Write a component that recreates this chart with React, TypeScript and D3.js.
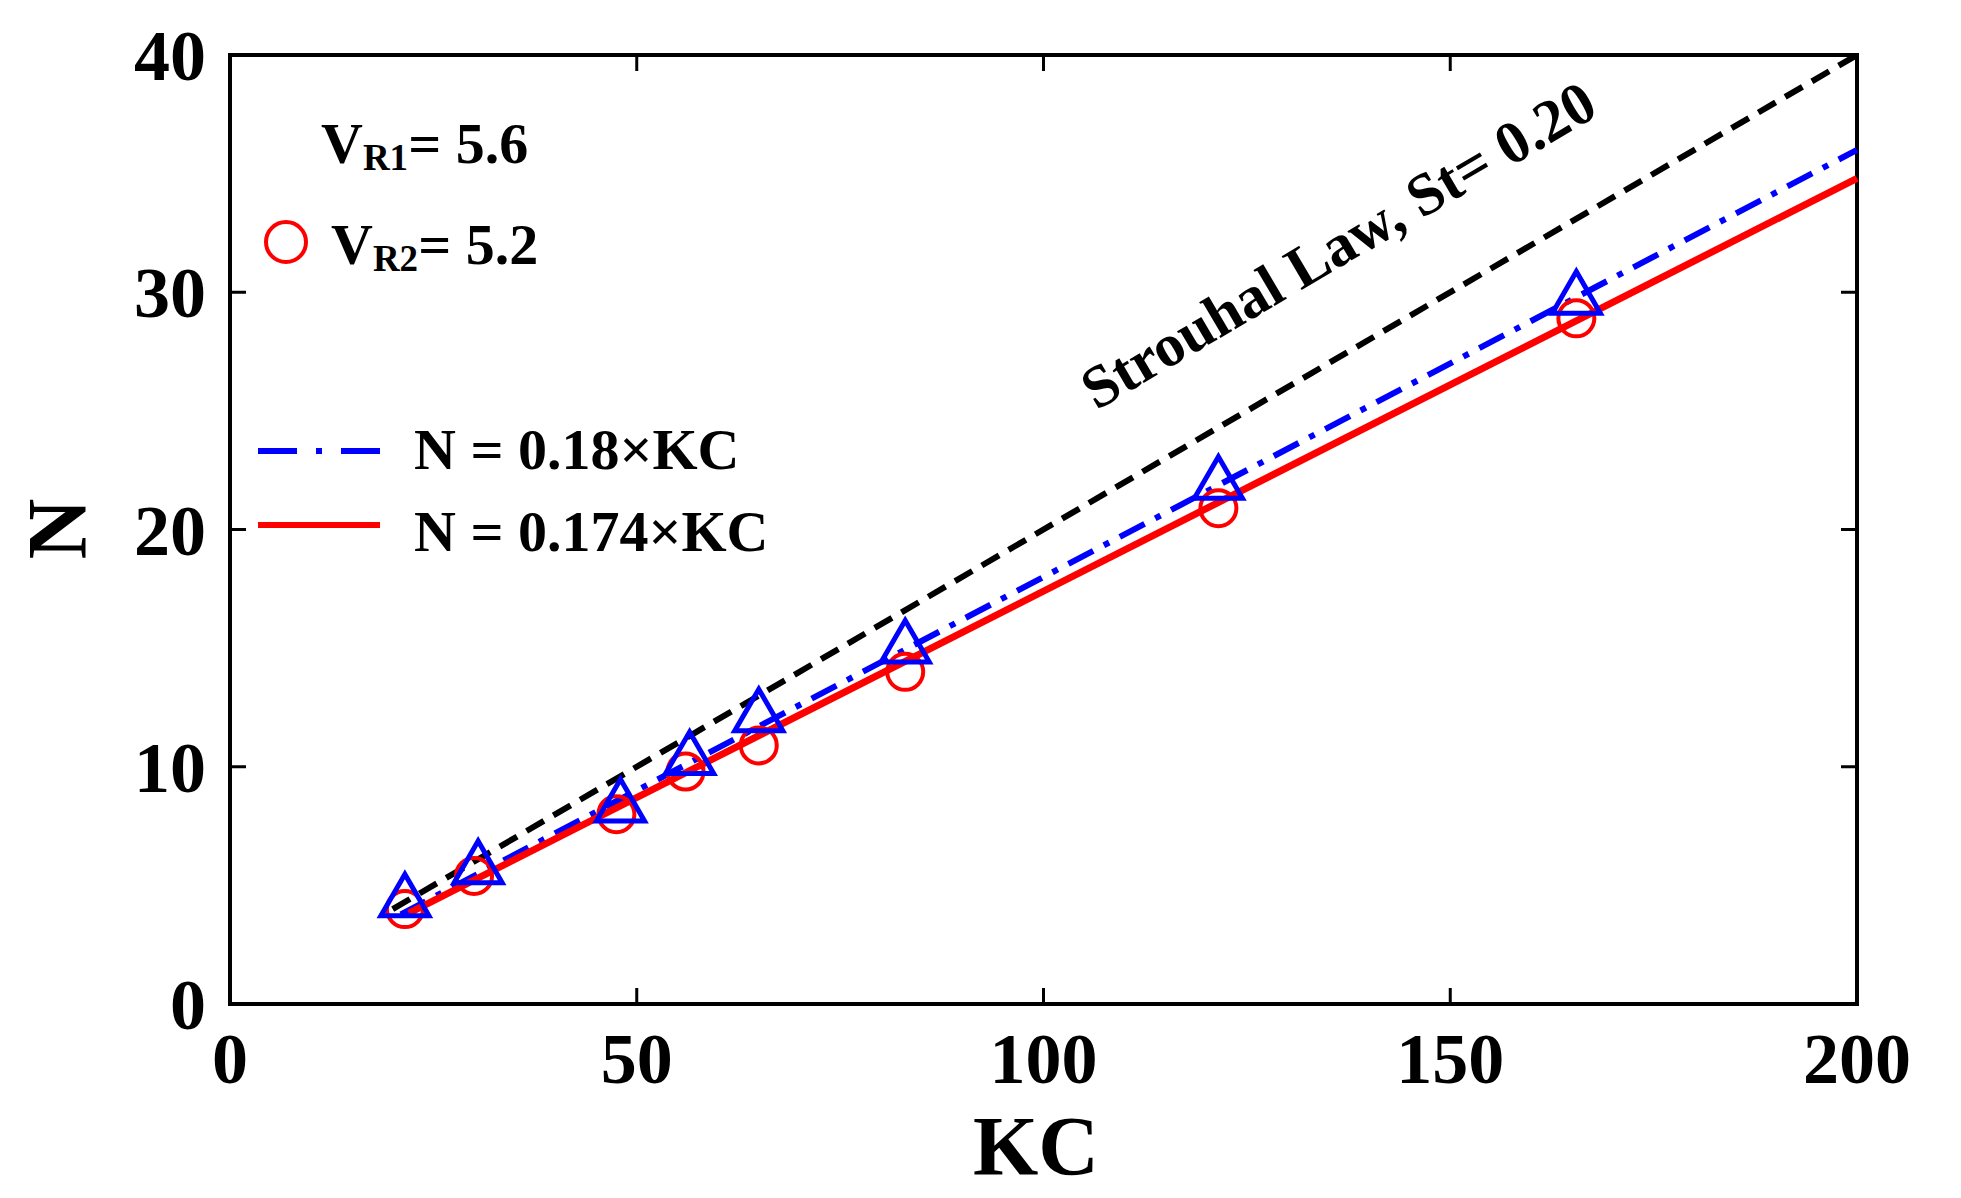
import React, { useEffect, useRef } from "react";
import * as d3 from "d3";

const kcRed = [21.5, 30, 47.5, 56, 65, 83, 121.5, 165.5];
const nRed = [4.0, 5.4, 8.0, 9.8, 10.9, 14.0, 20.9, 28.9];
const kcBlue = [21.5, 30.5, 48, 56.5, 65, 83, 121.5, 165.5];
const nBlue = [4.3, 5.7, 8.3, 10.3, 12.1, 15.0, 21.9, 29.7];

// fitted straight lines, end points
const strouhalKC = [20, 200];
const strouhalN = [4, 40];
const fitBlueKC = [21, 200];
const fitBlueN = [3.78, 36];
const fitRedKC = [22, 200];
const fitRedN = [3.83, 34.8];

const xTicks = [0, 50, 100, 150, 200];
const yTicks = [0, 10, 20, 30, 40];

const FONT = "'Liberation Serif', 'Times New Roman', serif";

export default function App() {
  const ref = useRef<SVGSVGElement | null>(null);

  useEffect(() => {
    if (!ref.current) return;
    document.body.style.margin = "0";
    const svg = d3.select(ref.current);
    svg.selectAll("*").remove();

    const left = 230,
      right = 1857,
      top = 55,
      bottom = 1004;
    const x = d3.scaleLinear([0, 200], [left, right]);
    const y = d3.scaleLinear([0, 40], [bottom, top]);
    const tick = 16;

    const g = svg.append("g");

    // ticks (inward, all four sides)
    const tk = g.append("g").attr("stroke", "#000").attr("stroke-width", 3);
    xTicks.forEach((t) => {
      tk.append("line").attr("x1", x(t)).attr("x2", x(t)).attr("y1", bottom).attr("y2", bottom - tick);
      tk.append("line").attr("x1", x(t)).attr("x2", x(t)).attr("y1", top).attr("y2", top + tick);
    });
    yTicks.forEach((t) => {
      tk.append("line").attr("x1", left).attr("x2", left + tick).attr("y1", y(t)).attr("y2", y(t));
      tk.append("line").attr("x1", right).attr("x2", right - tick).attr("y1", y(t)).attr("y2", y(t));
    });

    // frame
    g.append("rect")
      .attr("x", left)
      .attr("y", top)
      .attr("width", right - left)
      .attr("height", bottom - top)
      .attr("fill", "none")
      .attr("stroke", "#000")
      .attr("stroke-width", 4);

    // tick labels
    const lbl = g
      .append("g")
      .attr("font-family", FONT)
      .attr("font-weight", "bold")
      .attr("font-size", 72)
      .attr("fill", "#000");
    xTicks.forEach((t) => {
      lbl.append("text").attr("x", x(t)).attr("y", 1083).attr("text-anchor", "middle").text(t);
    });
    yTicks.forEach((t) => {
      lbl
        .append("text")
        .attr("x", 206)
        .attr("y", y(t) + 25)
        .attr("text-anchor", "end")
        .text(t);
    });

    // axis titles
    g.append("text")
      .attr("x", 1036)
      .attr("y", 1175)
      .attr("text-anchor", "middle")
      .attr("font-family", FONT)
      .attr("font-weight", "bold")
      .attr("font-size", 84)
      .text("KC");
    g.append("text")
      .attr("transform", "translate(86,529) rotate(-90)")
      .attr("text-anchor", "middle")
      .attr("font-family", FONT)
      .attr("font-weight", "bold")
      .attr("font-size", 84)
      .text("N");

    // lines
    const line = d3
      .line<number>()
      .x((d) => x(d[0]))
      .y((d) => y(d[1]));
    const pts = (a: number[], b: number[]) => a.map((v, i) => [v, b[i]]);

    g.append("path")
      .attr("d", line(pts(strouhalKC, strouhalN) as any))
      .attr("fill", "none")
      .attr("stroke", "#000")
      .attr("stroke-width", 6)
      .attr("stroke-dasharray", "20 11");
    g.append("path")
      .attr("d", line(pts(fitBlueKC, fitBlueN) as any))
      .attr("fill", "none")
      .attr("stroke", "#0000ff")
      .attr("stroke-width", 6)
      .attr("stroke-dasharray", "28 12 6 12");
    g.append("path")
      .attr("d", line(pts(fitRedKC, fitRedN) as any))
      .attr("fill", "none")
      .attr("stroke", "#ff0000")
      .attr("stroke-width", 7);

    // markers
    g.append("g")
      .selectAll("circle")
      .data(kcRed)
      .enter()
      .append("circle")
      .attr("cx", (d) => x(d))
      .attr("cy", (d, i) => y(nRed[i]))
      .attr("r", 18)
      .attr("fill", "none")
      .attr("stroke", "#ff0000")
      .attr("stroke-width", 4);

    const tri = d3.symbol(d3.symbolTriangle, 1000);
    g.append("g")
      .selectAll("path")
      .data(kcBlue)
      .enter()
      .append("path")
      .attr("d", tri)
      .attr("transform", (d, i) => `translate(${x(d)},${y(nBlue[i])})`)
      .attr("fill", "none")
      .attr("stroke", "#0000ff")
      .attr("stroke-width", 5);

    // annotation along the Strouhal line
    g.append("text")
      .attr("transform", `translate(${x(106.5)},${y(25.0)}) rotate(-30.5)`)
      .attr("font-family", FONT)
      .attr("font-weight", "bold")
      .attr("font-size", 60)
      .text("Strouhal Law, St= 0.20");

    // legend
    const leg = g.append("g").attr("font-family", FONT).attr("font-weight", "bold").attr("fill", "#000");
    const vr1 = leg.append("text").attr("x", 321).attr("y", 163).attr("font-size", 58);
    vr1.append("tspan").text("V");
    vr1.append("tspan").attr("font-size", 37).attr("dy", 7).text("R1");
    vr1.append("tspan").attr("dy", -7).text("= 5.6");

    leg.append("circle")
      .attr("cx", 286)
      .attr("cy", 242)
      .attr("r", 20)
      .attr("fill", "none")
      .attr("stroke", "#ff0000")
      .attr("stroke-width", 4);
    const vr2 = leg.append("text").attr("x", 331).attr("y", 264).attr("font-size", 58);
    vr2.append("tspan").text("V");
    vr2.append("tspan").attr("font-size", 37).attr("dy", 7).text("R2");
    vr2.append("tspan").attr("dy", -7).text("= 5.2");

    leg.append("line")
      .attr("x1", 258)
      .attr("x2", 380)
      .attr("y1", 451)
      .attr("y2", 451)
      .attr("stroke", "#0000ff")
      .attr("stroke-width", 6)
      .attr("stroke-dasharray", "39 19 6 19");
    leg.append("text").attr("x", 414).attr("y", 469).attr("font-size", 58).text("N = 0.18×KC");
    leg.append("line")
      .attr("x1", 258)
      .attr("x2", 380)
      .attr("y1", 525)
      .attr("y2", 525)
      .attr("stroke", "#ff0000")
      .attr("stroke-width", 6);
    leg.append("text").attr("x", 414).attr("y", 551).attr("font-size", 58).text("N = 0.174×KC");
  }, []);

  return <svg ref={ref} width={1961} height={1198} style={{ display: "block", background: "#fff" }} />;
}
